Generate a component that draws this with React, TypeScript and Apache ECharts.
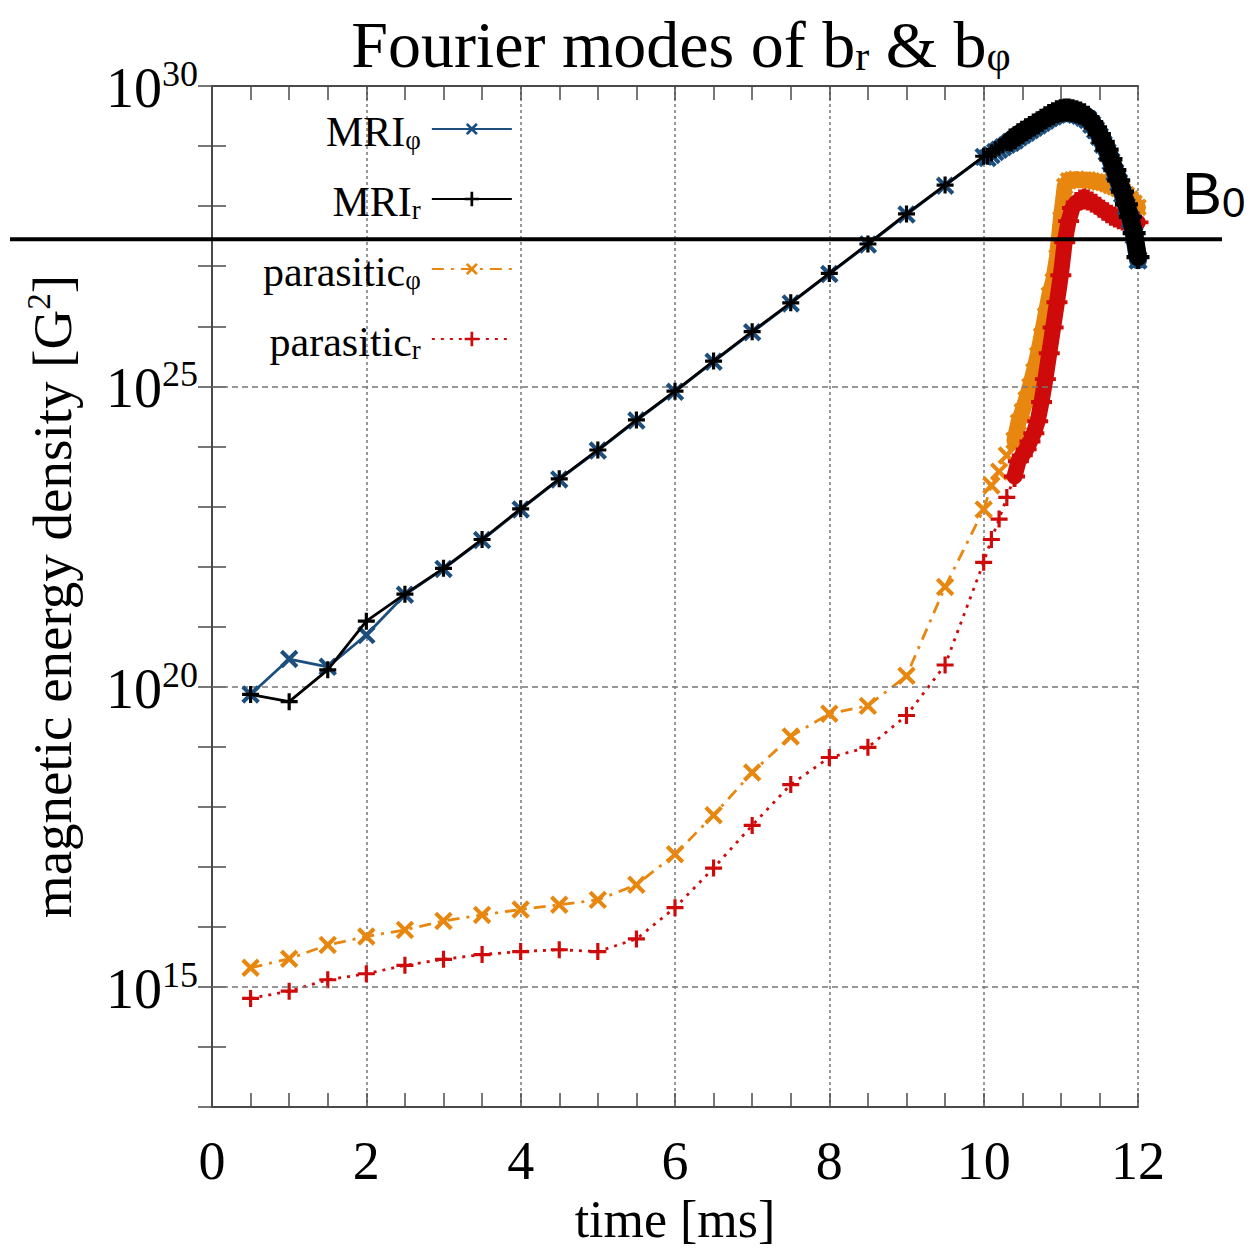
import React, { useEffect, useRef } from "react";
import * as echarts from "echarts";

// time axis samples [ms]
const tCoarse = [0.5, 1, 1.5, 2, 2.5, 3, 3.5, 4, 4.5, 5, 5.5, 6, 6.5, 7, 7.5, 8, 8.5, 9, 9.5, 10];
const tMriSparse = [10.05, 10.1, 10.15, 10.2, 10.25, 10.3, 10.35];
const tMriDense = [10.35, 10.4, 10.45, 10.5, 10.55, 10.6, 10.65, 10.7, 10.75, 10.8, 10.85, 10.9, 10.95, 11.0, 11.05, 11.1, 11.15, 11.2, 11.25, 11.3, 11.35, 11.4, 11.45, 11.5, 11.55, 11.6, 11.65, 11.7, 11.75, 11.8, 11.85, 11.9, 11.95, 12.0];
const tParSparse = [10.1, 10.2, 10.3, 10.4];
const tParDense = [10.4, 10.45, 10.5, 10.55, 10.6, 10.65, 10.7, 10.75, 10.8, 10.85, 10.9, 10.95, 11.0, 11.05, 11.1, 11.15, 11.2, 11.25, 11.3, 11.35, 11.4, 11.45, 11.5, 11.55, 11.6, 11.65, 11.7, 11.75, 11.8, 11.85, 11.9, 11.95, 12.0];

// log10 of magnetic energy density [G^2]
const mriPhiCoarse = [19.87, 20.46, 20.33, 20.86, 21.53, 21.96, 22.44, 22.95, 23.45, 23.93, 24.43, 24.91, 25.41, 25.9, 26.38, 26.87, 27.36, 27.86, 28.34, 28.82];
const mriRCoarse = [19.87, 19.75, 20.28, 21.09, 21.54, 21.97, 22.45, 22.96, 23.46, 23.94, 24.44, 24.92, 25.42, 25.91, 26.39, 26.88, 27.37, 27.87, 28.35, 28.83];
const mriPhiSparse = [28.8, 28.85, 28.9, 28.94, 28.98, 29.02, 29.06];
const mriRSparse = [28.83, 28.89, 28.94, 28.98, 29.02, 29.06, 29.1];
const mriPhiDense = [29.06, 29.1, 29.15, 29.19, 29.23, 29.27, 29.31, 29.35, 29.39, 29.43, 29.47, 29.5, 29.53, 29.55, 29.56, 29.56, 29.55, 29.53, 29.51, 29.48, 29.44, 29.36, 29.27, 29.16, 29.03, 28.9, 28.74, 28.56, 28.39, 28.2, 27.99, 27.78, 27.51, 27.1];
const mriRDense = [29.1, 29.14, 29.19, 29.23, 29.27, 29.31, 29.35, 29.39, 29.43, 29.47, 29.51, 29.54, 29.57, 29.59, 29.6, 29.6, 29.59, 29.57, 29.55, 29.52, 29.48, 29.4, 29.31, 29.2, 29.07, 28.94, 28.78, 28.6, 28.43, 28.24, 28.03, 27.82, 27.55, 27.15];
const parPhiCoarse = [15.32, 15.47, 15.7, 15.84, 15.95, 16.1, 16.2, 16.29, 16.37, 16.45, 16.7, 17.21, 17.86, 18.57, 19.17, 19.55, 19.68, 20.18, 21.66, 22.95];
const parRCoarse = [14.81, 14.93, 15.12, 15.22, 15.36, 15.46, 15.54, 15.59, 15.62, 15.59, 15.8, 16.32, 16.98, 17.69, 18.37, 18.82, 18.99, 19.52, 20.36, 22.07];
const parPhiSparse = [23.35, 23.58, 23.85, 24.1];
const parRSparse = [22.45, 22.79, 23.15, 23.5];
const parPhiDense = [24.1, 24.4, 24.58, 24.78, 25.0, 25.25, 25.52, 25.84, 26.18, 26.52, 26.75, 27.15, 27.78, 28.33, 28.42, 28.44, 28.45, 28.43, 28.44, 28.44, 28.42, 28.41, 28.4, 28.39, 28.37, 28.34, 28.32, 28.29, 28.25, 28.19, 28.12, 28.05, 27.98];
const parRDense = [23.5, 23.75, 23.85, 23.95, 24.08, 24.22, 24.42, 24.74, 25.12, 25.55, 25.98, 26.4, 26.85, 27.4, 27.75, 27.97, 28.06, 28.1, 28.12, 28.1, 28.07, 28.03, 27.98, 27.93, 27.89, 27.85, 27.82, 27.79, 27.77, 27.75, 27.74, 27.73, 27.73];

const b0Log = 27.45;
const gridLogLines = [15, 20, 25];

const seriesNames = ["MRI_phi", "MRI_r", "parasitic_phi", "parasitic_r"];
const legendLabels: Record<string, string> = {
  MRI_phi: "{m|MRI}{s|φ}",
  MRI_r: "{m|MRI}{s|r}",
  parasitic_phi: "{m|parasitic}{s|φ}",
  parasitic_r: "{m|parasitic}{s|r}",
};

const SERIF = "'Liberation Serif', 'Times New Roman', serif";
const SANS = "'Liberation Sans', Arial, sans-serif";
const BLUE = "#1d4f7e";
const BLACK = "#000000";
const ORANGE = "#e8870f";
const RED = "#cf0a0a";
const PLUS = "path://M6.5,0H9.5V6.5H16V9.5H9.5V16H6.5V9.5H0V6.5H6.5Z";

const pairs = (ts: number[], vs: number[]) => ts.map((t, i) => [t, Math.pow(10, vs[i])]);

export default function App() {
  const ref = useRef<HTMLDivElement>(null);
  useEffect(() => {
    if (!ref.current) return;
    const chart = echarts.init(ref.current, null, { renderer: "svg" });
    const axisLineStyle = { color: "#4a4a4a", width: 2 };
    const tickStyle = { color: "#4a4a4a", width: 1.5 };
    const yAxisBase = {
      type: "log",
      logBase: 10,
      min: 1e13,
      max: 1e30,
      interval: 1,
      axisLine: { show: true, lineStyle: axisLineStyle },
      axisTick: { show: true, inside: true, length: 14, lineStyle: tickStyle },
      splitLine: { show: false },
      minorTick: { show: false },
    };
    const xAxisBase = {
      type: "value",
      min: 0,
      max: 12,
      interval: 2,
      axisLine: { show: true, lineStyle: axisLineStyle },
      axisTick: { show: true, inside: true, length: 14, lineStyle: tickStyle },
      minorTick: { show: true, splitNumber: 4, length: 14, lineStyle: tickStyle },
    };
    const mk = (
      name: string,
      color: string,
      data: number[][],
      opts: { rot: boolean; z: number; dense: number; type: any }
    ) => ({
      name,
      type: "line",
      z: opts.z,
      data,
      symbol: PLUS,
      symbolRotate: opts.rot ? 45 : 0,
      symbolSize: opts.dense ? opts.dense + 5 : opts.rot ? 22 : 17,
      itemStyle: { color },
      lineStyle: opts.dense
        ? { color, width: opts.dense, cap: "round", join: "round" }
        : { color, width: 2.8, type: opts.type },
    });
    const option: any = {
      animation: false,
      backgroundColor: "#ffffff",
      title: {
        text: "{m|Fourier modes of b}{s|r}{m| & b}{s|φ}",
        left: 676,
        top: 0,
        textAlign: "center",
        textStyle: {
          fontWeight: "normal",
          rich: {
            m: { fontFamily: SERIF, fontSize: 66, fontWeight: "normal", lineHeight: 72, color: "#000", verticalAlign: "bottom" },
            s: { fontFamily: SERIF, fontSize: 42, fontWeight: "normal", lineHeight: 26, color: "#000", verticalAlign: "bottom" },
          },
        },
      },
      grid: { left: 212, right: 115, top: 86, bottom: 140, containLabel: false },
      legend: {
        data: seriesNames,
        orient: "vertical",
        left: 258,
        top: 106,
        align: "right",
        itemWidth: 80,
        itemHeight: 18,
        itemGap: 28,
        selectedMode: false,
        formatter: (name: string) => legendLabels[name],
        textStyle: {
          color: "#000",
          rich: {
            m: { fontFamily: SERIF, fontSize: 42, lineHeight: 48, color: "#000", verticalAlign: "bottom" },
            s: { fontFamily: SERIF, fontSize: 27, lineHeight: 22, color: "#000", verticalAlign: "bottom", padding: [0, 6, 0, 0] },
          },
        },
      },
      xAxis: [
        {
          ...xAxisBase,
          position: "bottom",
          name: "time [ms]",
          nameLocation: "middle",
          nameGap: 80,
          nameTextStyle: { fontFamily: SERIF, fontSize: 52, color: "#000" },
          axisLabel: { fontFamily: SERIF, fontSize: 54, color: "#000", margin: 27 },
          splitLine: { show: true, lineStyle: { color: "#777", width: 1.5, type: [3, 3] } },
        },
        {
          ...xAxisBase,
          position: "top",
          axisLabel: { show: false },
          splitLine: { show: false },
        },
      ],
      yAxis: [
        {
          ...yAxisBase,
          position: "left",
          name: "magnetic energy density [G{p|2}]",
          nameLocation: "middle",
          nameGap: 130,
          nameRotate: 90,
          nameTextStyle: {
            color: "#000",
            rich: {
              p: { fontFamily: SERIF, fontSize: 33, lineHeight: 26, color: "#000", verticalAlign: "top" },
            },
            fontFamily: SERIF,
            fontSize: 55,
            lineHeight: 60,
          },
          axisLabel: {
            margin: 14,
            formatter: (val: number) => {
              const e = Math.round(Math.log10(val));
              return e % 5 === 0 ? `{b|10}{s|${e}}` : "";
            },
            rich: {
              b: { fontFamily: SERIF, fontSize: 56, lineHeight: 60, color: "#000", verticalAlign: "bottom" },
              s: { fontFamily: SERIF, fontSize: 36, lineHeight: 26, color: "#000", verticalAlign: "top" },
            },
          },
        },
        {
          ...yAxisBase,
          position: "right",
          axisLabel: { show: false },
        },
      ],
      series: [
        {
          name: "gridlines",
          type: "line",
          data: [],
          z: 1,
          silent: true,
          markLine: {
            silent: true,
            symbol: "none",
            label: { show: false },
            lineStyle: { color: "#777", width: 1.5, type: [6, 4] },
            data: gridLogLines.map((e) => ({ yAxis: Math.pow(10, e) })),
          },
        },
        mk("MRI_phi", BLUE, pairs([...tCoarse, ...tMriSparse], [...mriPhiCoarse, ...mriPhiSparse]), { rot: true, z: 5, dense: 0, type: "solid" }),
        mk("MRI_r", BLACK, pairs([...tCoarse, ...tMriSparse], [...mriRCoarse, ...mriRSparse]), { rot: false, z: 6, dense: 0, type: "solid" }),
        mk("parasitic_phi", ORANGE, pairs([...tCoarse, ...tParSparse], [...parPhiCoarse, ...parPhiSparse]), { rot: true, z: 3, dense: 0, type: [12, 7, 3, 7] }),
        mk("parasitic_r", RED, pairs([...tCoarse, ...tParSparse], [...parRCoarse, ...parRSparse]), { rot: false, z: 4, dense: 0, type: [3, 6] }),
        mk("parasitic_phi", ORANGE, pairs(tParDense, parPhiDense), { rot: true, z: 3, dense: 16, type: "solid" }),
        mk("parasitic_r", RED, pairs(tParDense, parRDense), { rot: false, z: 4, dense: 16, type: "solid" }),
        mk("MRI_phi", BLUE, pairs(tMriDense, mriPhiDense), { rot: true, z: 5, dense: 18, type: "solid" }),
        mk("MRI_r", BLACK, pairs(tMriDense, mriRDense), { rot: false, z: 6, dense: 18, type: "solid" }),
      ],
    };
    chart.setOption(option);
    const y0 = chart.convertToPixel({ yAxisIndex: 0 }, Math.pow(10, b0Log)) as number;
    chart.setOption({
      graphic: [
        {
          type: "line",
          z: 100,
          shape: { x1: 10, y1: y0, x2: 1222, y2: y0 },
          style: { stroke: "#000", lineWidth: 4 },
        },
        {
          type: "text",
          z: 100,
          x: 1182,
          y: y0 - 80,
          style: {
            text: "{b|B}{s|0}",
            rich: {
              b: { fontFamily: SANS, fontSize: 60, lineHeight: 64, fill: "#000", verticalAlign: "bottom" },
              s: { fontFamily: SANS, fontSize: 42, lineHeight: 36, fill: "#000", verticalAlign: "bottom" },
            },
          },
        },
      ],
    });
    return () => chart.dispose();
  }, []);
  return <div ref={ref} style={{ position: "absolute", left: 0, top: 0, width: 1253, height: 1250 }} />;
}
